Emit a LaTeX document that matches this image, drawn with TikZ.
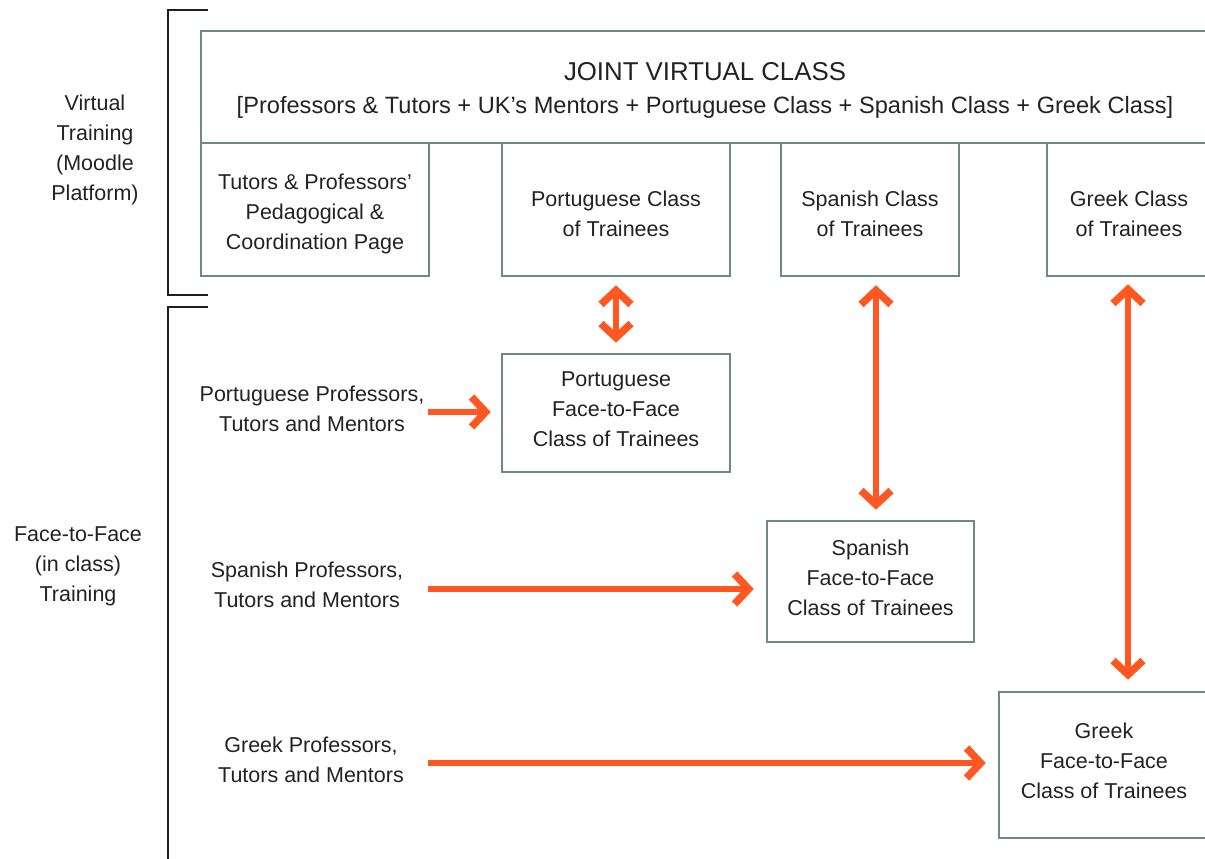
\documentclass[tikz,border=0pt]{standalone}
\usepackage{fontspec}
\setmainfont{Liberation Sans}
\usetikzlibrary{arrows.meta,calc}
\definecolor{boxc}{HTML}{6E8A82}
\definecolor{arrc}{HTML}{FF5722}
\definecolor{txtc}{HTML}{222222}
\definecolor{brk}{HTML}{1E1E1E}
\newcommand{\topstrut}{\rule{0pt}{24pt}}
\newcommand{\botstrut}{\rule[-7pt]{0pt}{7pt}}
\tikzset{
  box/.style={draw=boxc, line width=2.6pt, inner sep=0pt, align=center, text=txtc,
    font=\fontsize{21.5}{30}\selectfont},
  lab/.style={inner sep=0pt, align=center, text=txtc, font=\fontsize{21.5}{30}\selectfont},
  arr/.style={draw=arrc, line width=5.5pt, -{Straight Barb[length=14pt,width=30pt,line width=7.5pt]}},
  dbl/.style={draw=arrc, line width=5.5pt, {Straight Barb[length=14pt,width=30pt,line width=7.5pt]}-{Straight Barb[length=14pt,width=30pt,line width=7.5pt]}},
  brack/.style={draw=brk, line width=2.6pt}
}
\begin{document}
\begin{tikzpicture}[x=1pt,y=-1pt]
\useasboundingbox (0,0) rectangle (1205,859);
\clip (0,0) rectangle (1205,859);
% brackets
\draw[brack] (208,10) -- (168,10) -- (168,295) -- (208,295);
\draw[brack] (208,307) -- (168,307) -- (168,870);
% side labels
\node[lab] (virt) at (95,150) {Virtual\\Training\\(Moodle\\Platform)};
\node[lab] (f2f) at (78,566) {Face-to-Face\\(in class)\\Training};
% top boxes
\node[box, minimum width=1008pt, minimum height=112pt] (joint) at (705,87)
  {{\fontsize{25.8}{34}\selectfont\rule{0pt}{24pt}JOINT VIRTUAL CLASS}\\[3pt]
   {\fontsize{23.6}{30}\selectfont [Professors \& Tutors + UK’s Mentors + Portuguese Class + Spanish Class + Greek Class]}};
\node[box, minimum width=228pt, minimum height=133pt] (tutors) at (315,209.5)
  {\topstrut Tutors \& Professors’\\Pedagogical \&\\Coordination Page};
\node[box, minimum width=228pt, minimum height=133pt] (pclass) at (616,209.5)
  {\topstrut Portuguese Class\\of Trainees};
\node[box, minimum width=178pt, minimum height=133pt] (sclass) at (870,209.5)
  {\topstrut Spanish Class\\of Trainees};
\node[box, minimum width=164pt, minimum height=133pt] (gclass) at (1129,209.5)
  {\topstrut Greek Class\\of Trainees};
% face to face boxes
\node[box, minimum width=228pt, minimum height=118pt] (pf2f) at (616,413)
  {Portuguese\\Face-to-Face\\Class of Trainees\botstrut};
\node[box, minimum width=207pt, minimum height=121pt] (sf2f) at (870.5,581.5)
  {Spanish\\Face-to-Face\\Class of Trainees\botstrut};
\node[box, minimum width=210pt, minimum height=146pt] (gf2f) at (1104,765)
  {Greek\\Face-to-Face\\Class of Trainees\rule[-8pt]{0pt}{8pt}};
% left labels
\node[lab] (plab) at (312,409) {Portuguese Professors,\\Tutors and Mentors};
\node[lab] (slab) at (307,585) {Spanish Professors,\\Tutors and Mentors};
\node[lab] (glab) at (311,760) {Greek Professors,\\Tutors and Mentors};
% arrow start points
\coordinate (pstart) at (428,412);
\coordinate (sstart) at (428,589);
\coordinate (gstart) at (428,763);
% vertical double arrows
\draw[dbl, shorten <=8pt, shorten >=10pt] (pclass.south) -- (pf2f.north);
\draw[dbl, shorten <=8pt, shorten >=10pt] ([xshift=6pt]sclass.south) -- ([xshift=6pt]sclass.south |- sf2f.north);
\draw[dbl, shorten <=7pt, shorten >=11pt] ([xshift=-1pt]gclass.south) -- ([xshift=-1pt]gclass.south |- gf2f.north);
% horizontal arrows
\draw[arr, shorten >=10pt] (pstart) -- (pstart -| pf2f.west);
\draw[arr, shorten >=12pt] (sstart) -- (sstart -| sf2f.west);
\draw[arr, shorten >=12pt] (gstart) -- (gstart -| gf2f.west);
\end{tikzpicture}
\end{document}
